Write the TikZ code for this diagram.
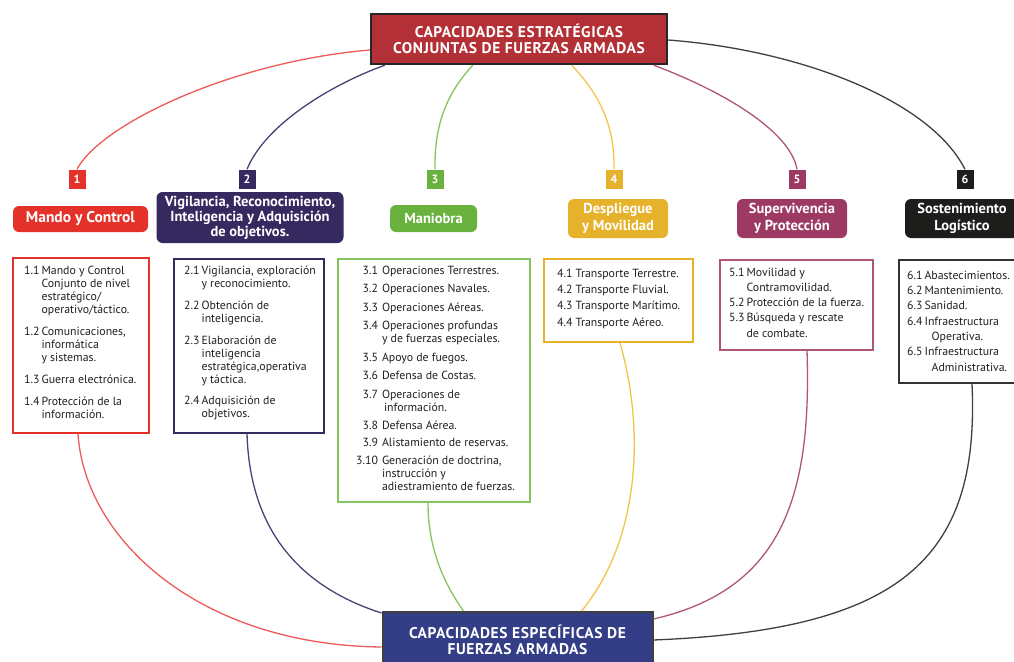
\documentclass[tikz,border=0pt]{standalone}
\usepackage{fontspec}
\setmainfont{PT Sans}
\usetikzlibrary{calc}
\definecolor{cRed}{HTML}{E4322B}
\definecolor{cRedLine}{HTML}{EE5A55}
\definecolor{cTop}{HTML}{B23036}
\definecolor{cPur}{HTML}{35295F}
\definecolor{cPurLine}{HTML}{4A4178}
\definecolor{cGrn}{HTML}{6AB23E}
\definecolor{cGrnLine}{HTML}{86C45E}
\definecolor{cYel}{HTML}{E6B12B}
\definecolor{cYelLine}{HTML}{F0C64A}
\definecolor{cMag}{HTML}{9C3A64}
\definecolor{cMagLine}{HTML}{B0557A}
\definecolor{cBlk}{HTML}{1D1D1B}
\definecolor{cBot}{HTML}{343E87}
\definecolor{cTxt}{HTML}{231F20}
\begin{document}
\begin{tikzpicture}[x=1pt,y=-1pt,
  conn/.style={line width=1.3pt},
  numbox/.style={fill=#1, text=white, font=\bfseries\fontsize{12}{12}\selectfont, minimum width=17pt, minimum height=19pt, inner sep=0pt},
  headbox/.style={fill=#1, rounded corners=6pt, text=white, font=\bfseries\fontsize{14.5}{15}\selectfont, align=center, inner sep=0pt},
  listbox/.style={draw=#1, line width=2pt, fill=white, inner sep=0pt},
  listtext/.style={anchor=north west, inner sep=0pt, text=cTxt, font=\fontsize{11.8}{13}\selectfont, align=left},
  capbox/.style={line width=2.5pt, text=white, font=\bfseries\fontsize{15.5}{16}\selectfont\addfontfeature{LetterSpace=4}, align=center, inner sep=0pt},
]
\useasboundingbox (0,0) rectangle (1014,661);
\clip (0,0) rectangle (1014,661);
\fill[white] (0,0) rectangle (1014,661);

% main boxes
\node[capbox, draw=black!85, fill=cTop, minimum width=296pt, minimum height=50pt] (top) at (519,39) {CAPACIDADES ESTRATÉGICAS\\CONJUNTAS DE FUERZAS ARMADAS};
\node[capbox, draw=black!75, line width=2pt, fill=cBot, minimum width=270pt, minimum height=56pt] (bot) at (517.5,640) {CAPACIDADES ESPECÍFICAS DE\\FUERZAS ARMADAS};

% number boxes
\node[numbox=cRed] (n1) at (77,179) {1};
\node[numbox=cPur] (n2) at (247,179) {2};
\node[numbox=cGrn] (n3) at (435,179) {3};
\node[numbox=cYel] (n4) at (614,179) {4};
\node[numbox=cMag] (n5) at (797,179) {5};
\node[numbox=cBlk] (n6) at (965,179) {6};

% heading boxes
\node[headbox=cRed, minimum width=135pt, minimum height=26pt, font=\bfseries\fontsize{15.5}{15}\selectfont] (h1) at (80.5,219) {Mando y Control};
\node[headbox=cPur, minimum width=187pt, minimum height=51pt] (h2) at (250,217.5) {Vigilancia, Reconocimiento,\\Inteligencia y Adquisición\\de objetivos.};
\node[headbox=cGrn, minimum width=87pt, minimum height=27pt] (h3) at (433.5,218.5) {Maniobra};
\node[headbox=cYel, minimum width=100pt, minimum height=39pt, font=\bfseries\fontsize{14.5}{17}\selectfont] (h4) at (618,218.5) {Despliegue\\y Movilidad};
\node[headbox=cMag, minimum width=110pt, minimum height=39pt, font=\bfseries\fontsize{14.5}{17}\selectfont] (h5) at (792,218.5) {Supervivencia\\y Protección};
\node[headbox=cBlk, minimum width=114pt, minimum height=39pt, font=\bfseries\fontsize{14.5}{17}\selectfont] (h6) at (962,218.5) {Sostenimiento\\Logístico};

% list boxes
\node[listbox=cRed, minimum width=136pt, minimum height=175pt] (b1) at (81,345.5) {};
\node[listbox=cPur, minimum width=150pt, minimum height=174pt] (b2) at (249,345.5) {};
\node[listbox=cGrnLine, line width=1.6pt, minimum width=192pt, minimum height=243pt] (b3) at (434,380.5) {};
\node[listbox=cYel, minimum width=149pt, minimum height=83pt] (b4) at (618.5,300.5) {};
\node[listbox=cMagLine, line width=1.3pt, minimum width=153pt, minimum height=90pt] (b5) at (796.5,305) {};
\node[listbox=black!80, minimum width=125pt, minimum height=123pt] (b6) at (961.5,321.5) {};

% list texts
\node[listtext] (t1) at (24,265) {\begin{tabular}{@{}l@{\hspace{2pt}}l@{}}
1.1 & Mando y Control\\
 & Conjunto de nivel\\
 & estratégico/\\
 & operativo/táctico.\\[9pt]
1.2 & Comunicaciones,\\
 & informática\\
 & y sistemas.\\[9pt]
1.3 & Guerra electrónica.\\[9pt]
1.4 & Protección de la\\
 & información.
\end{tabular}};
\node[listtext] (t2) at (184,265) {\begin{tabular}{@{}l@{\hspace{2pt}}l@{}}
2.1 & Vigilancia, exploración\\
 & y reconocimiento.\\[9pt]
2.2 & Obtención de\\
 & inteligencia.\\[9pt]
2.3 & Elaboración de\\
 & inteligencia\\
 & estratégica,operativa\\
 & y táctica.\\[8pt]
2.4 & Adquisición de\\
 & objetivos.
\end{tabular}};
\node[listtext] (t3) at (356,265) {\begin{tabular}{@{}r@{\hspace{4pt}}l@{}}
3.1 & Operaciones Terrestres.\\[5.5pt]
3.2 & Operaciones Navales.\\[5.5pt]
3.3 & Operaciones Aéreas.\\[5.5pt]
3.4 & Operaciones profundas\\
 & y de fuerzas especiales.\\[5.5pt]
3.5 & Apoyo de fuegos.\\[5.5pt]
3.6 & Defensa de Costas.\\[5.5pt]
3.7 & Operaciones de\\
 & \hspace{2pt}información.\\[5pt]
3.8 & Defensa Aérea.\\[4pt]
3.9 & Alistamiento de reservas.\\[5.5pt]
3.10 & Generación de doctrina,\\
 & instrucción y\\
 & adiestramiento de fuerzas.
\end{tabular}};
\node[listtext, font=\fontsize{11.8}{16.3}\selectfont] (t4) at (557,265.6) {\begin{tabular}{@{}l@{}}
4.1 Transporte Terrestre.\\
4.2 Transporte Fluvial.\\
4.3 Transporte Marítimo.\\
4.4 Transporte Aéreo.
\end{tabular}};
\node[listtext, font=\fontsize{11.8}{15.25}\selectfont] (t5) at (729,265.3) {\begin{tabular}{@{}l@{\hspace{2pt}}l@{}}
5.1 & Movilidad y\\
 & Contramovilidad.\\
5.2 & Protección de la fuerza.\\
5.3 & Búsqueda y rescate\\
 & de combate.
\end{tabular}};
\node[listtext, font=\fontsize{11.8}{15.3}\selectfont] (t6) at (907,268.3) {\begin{tabular}{@{}l@{\hspace{2pt}}l@{}}
6.1 & Abastecimientos.\\
6.2 & Mantenimiento.\\
6.3 & Sanidad.\\
6.4 & Infraestructura\\
 & \hspace{7pt}Operativa.\\
6.5 & Infraestructura\\
 & \hspace{7pt}Administrativa.
\end{tabular}};

% connectors from top box
\draw[conn, cRedLine] ([yshift=-11pt]top.west) .. controls (230,62) and (100,125) .. (n1.north);
\draw[conn, cPurLine] ([xshift=15pt]top.south west) .. controls (330,85) and (265,125) .. (n2.north);
\draw[conn, cGrnLine] ([xshift=103pt]top.south west) .. controls (450,90) and (434,120) .. (n3.north);
\draw[conn, cYelLine] ([xshift=202pt]top.south west) .. controls (595,90) and (615,120) .. (n4.north);
\draw[conn, cMagLine] ([xshift=284pt]top.south west) .. controls (720,90) and (790,130) .. (n5.north);
\draw[conn, cBlk!85] ([yshift=-1pt]top.east) .. controls (800,50) and (930,100) .. (n6.north);

% connectors to bottom box
\draw[conn, cRedLine] ([xshift=-3pt]b1.south) .. controls (85,540) and (200,645) .. ([yshift=-7pt]bot.west);
\draw[conn, cPurLine] ([xshift=-2pt]b2.south) .. controls (250,540) and (310,590) .. ([yshift=-2pt]bot.north west);
\draw[conn, cGrnLine] ([xshift=-6pt]b3.south) .. controls (428,550) and (445,585) .. ([xshift=82pt]bot.north west);
\draw[conn, cYelLine] ([xshift=1.5pt]b4.south) .. controls (645,430) and (640,540) .. ([xshift=200pt]bot.north west);
\draw[conn, cMagLine] ([xshift=10.5pt]b5.south) .. controls (812,500) and (780,590) .. ([yshift=-8pt]bot.north east);
\draw[conn, cBlk!85] ([xshift=10.5pt]b6.south) .. controls (980,560) and (900,630) .. (bot.east);
\end{tikzpicture}
\end{document}
